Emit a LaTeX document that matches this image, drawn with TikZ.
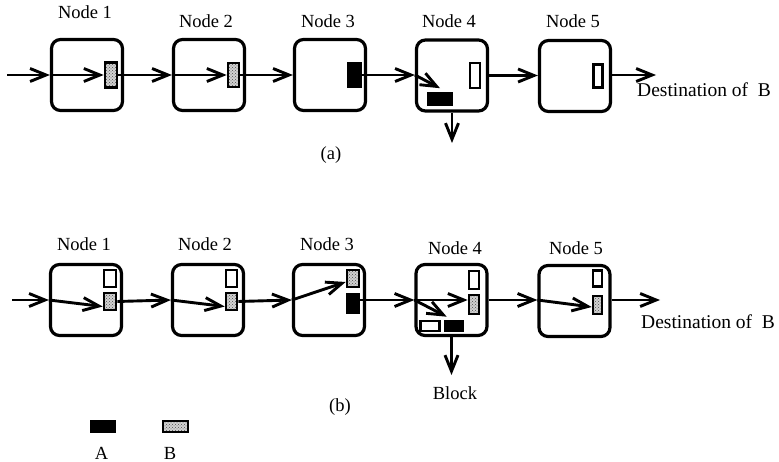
\documentclass[tikz,border=0pt]{standalone}
\usepackage{fontspec}
\setmainfont{Liberation Serif}
\usetikzlibrary{arrows.meta,calc,patterns}

\begin{document}
\begin{tikzpicture}[x=1pt,y=-1pt,
  station/.style={draw, line width=3.2pt, rounded corners=9pt,
    minimum width=71pt, minimum height=71pt, inner sep=0pt},
  pkt/.style={draw, line width=2.6pt, inner sep=0pt},
  pktA/.style={pkt, fill=black},
  pktB/.style={pkt, preaction={fill=gray!35},
    preaction={pattern=crosshatch dots, pattern color=black!70}},
  pktE/.style={pkt, fill=white},
  flow/.style={line width=2.9pt, -{Straight Barb[length=16pt,width=13pt,line width=2.9pt]}},
  lbl/.style={font=\fontsize{18.5}{20}\selectfont, inner sep=0pt},
  dest/.style={font=\fontsize{19.5}{21}\selectfont, inner sep=0pt, anchor=base west},
]
\useasboundingbox (0,0) rectangle (779,462);

% ---------------- (a) ----------------
\node[station] (S1a) at (87,75) {};
\node[station] (S2a) at (209,75) {};
\node[station] (S3a) at (330,75) {};
\node[station] (S4a) at (452,75.5) {};
\node[station] (S5a) at (575,76) {};

\node[lbl] (L1a) at (85,12) {Node 1};
\node[lbl] (L2a) at (206,21) {Node 2};
\node[lbl] (L3a) at (328,21) {Node 3};
\node[lbl] (L4a) at (449,21) {Node 4};
\node[lbl] (L5a) at (573,21) {Node 5};

\node[pktB, minimum width=12pt, minimum height=25pt] (B1a) at (111,75) {};
\node[pktB, minimum width=11pt, minimum height=24pt] (B2a) at (233.5,75) {};
\node[pktA, minimum width=13pt, minimum height=24pt] (K3a) at (354.5,75) {};
\node[pktA, minimum width=24pt, minimum height=11pt] (K4a) at (440,99) {};
\node[pktE, minimum width=10pt, minimum height=25pt] (E4a) at (475,75.5) {};
\node[pktE, minimum width=9pt, minimum height=23pt] (E5a) at (598,76) {};

\coordinate (ina) at (7,75);
\coordinate (outa) at (656,75);
\coordinate (downa) at (452,143);

\draw[flow] (ina) -- (S1a.west);
\draw[flow] (S1a.west) -- (B1a.west);
\draw[flow] (B1a.east) -- (S2a.west);
\draw[flow] (S2a.west) -- (B2a.west);
\draw[flow] (B2a.east) -- (S3a.west);
\draw[flow] (K3a.east) -- (S4a.west |- K3a.east);
\draw[flow] (S4a.west |- K3a.east) -- ($(K4a.north)+(0,-4)$);
\draw[flow] (S4a.east |- E4a.east) -- (S5a.west |- E4a.east);
\draw[flow] (S5a.east |- outa) -- (outa);
\draw[flow] (S4a.south) -- (downa);

\node[dest] (Da) at (637,97) {Destination of\ \ B};
\node[lbl] (Ca) at (331,155) {(a)};

% ---------------- (b) ----------------
\node[station] (S1b) at (86,300) {};
\node[station] (S2b) at (208,300) {};
\node[station] (S3b) at (329,300) {};
\node[station] (S4b) at (451.5,300) {};
\node[station] (S5b) at (574.5,301) {};

\node[lbl] (L1b) at (84,244) {Node 1};
\node[lbl] (L2b) at (205,244) {Node 2};
\node[lbl] (L3b) at (327,244) {Node 3};
\node[lbl] (L4b) at (455,248) {Node 4};
\node[lbl] (L5b) at (576,248) {Node 5};

\node[pktE, minimum width=12pt, minimum height=17pt] (E1b) at (110,278.5) {};
\node[pktB, minimum width=12pt, minimum height=17pt] (B1b) at (110,301.5) {};
\node[pktE, minimum width=11pt, minimum height=17pt] (E2b) at (231.5,278.5) {};
\node[pktB, minimum width=11pt, minimum height=17pt] (B2b) at (231.5,301.5) {};
\node[pktB, minimum width=12pt, minimum height=17pt] (B3b) at (353,278.5) {};
\node[pktA, minimum width=12pt, minimum height=19pt] (K3b) at (353,303.5) {};
\node[pktE, minimum width=10pt, minimum height=18pt] (E4b) at (474,280) {};
\node[pktB, minimum width=10pt, minimum height=19pt] (B4b) at (474,304.5) {};
\node[pktE, minimum width=19pt, minimum height=10pt] (W4b) at (430,326) {};
\node[pktA, minimum width=18pt, minimum height=10pt] (K4b) at (454,326) {};
\node[pktE, minimum width=9pt, minimum height=16pt] (E5b) at (597.5,278.5) {};
\node[pktB, minimum width=9pt, minimum height=18pt] (B5b) at (597.5,305) {};

\coordinate (inb) at (12,300);
\coordinate (outb) at (660,300);
\coordinate (downb) at (451.5,375);

\draw[flow] (inb) -- (S1b.west);
\draw[flow] (S1b.west) -- ($(B1b.west)+(0,5)$);
\draw[flow] (B1b.east) -- (S2b.west);
\draw[flow] (S2b.west) -- ($(B2b.west)+(0,5)$);
\draw[flow] (B2b.east) -- (S3b.west);
\draw[flow] (S3b.west) -- ($(B3b.west)+(0,3.5)$);
\draw[flow] (K3b.east |- S4b.west) -- (S4b.west);
\draw[flow] (S4b.west) -- (B4b.west |- S4b.west);
\draw[flow] (S4b.west) -- ($(K4b.north west)+(3,-3)$);
\draw[flow] (S4b.east) -- (S5b.west |- S4b.east);
\draw[flow] (S5b.west |- S4b.east) -- ($(B5b.west)+(0,2)$);
\draw[flow] (S5b.east |- outb) -- (outb);
\draw[flow] (S4b.south) -- (downb);

\node[dest] (Db) at (641,328) {Destination of\ \ B};
\node[lbl] (Blk) at (455,393) {Block};
\node[lbl] (Cb) at (340,407) {(b)};

% ---------------- legend ----------------
\node[pktA, minimum width=24pt, minimum height=11pt] (legA) at (103,426.5) {};
\node[pktB, minimum width=25pt, minimum height=11pt] (legB) at (175.5,426.5) {};
\node[lbl] (tA) at (101.5,453) {A};
\node[lbl] (tB) at (170,453) {B};
\end{tikzpicture}
\end{document}
